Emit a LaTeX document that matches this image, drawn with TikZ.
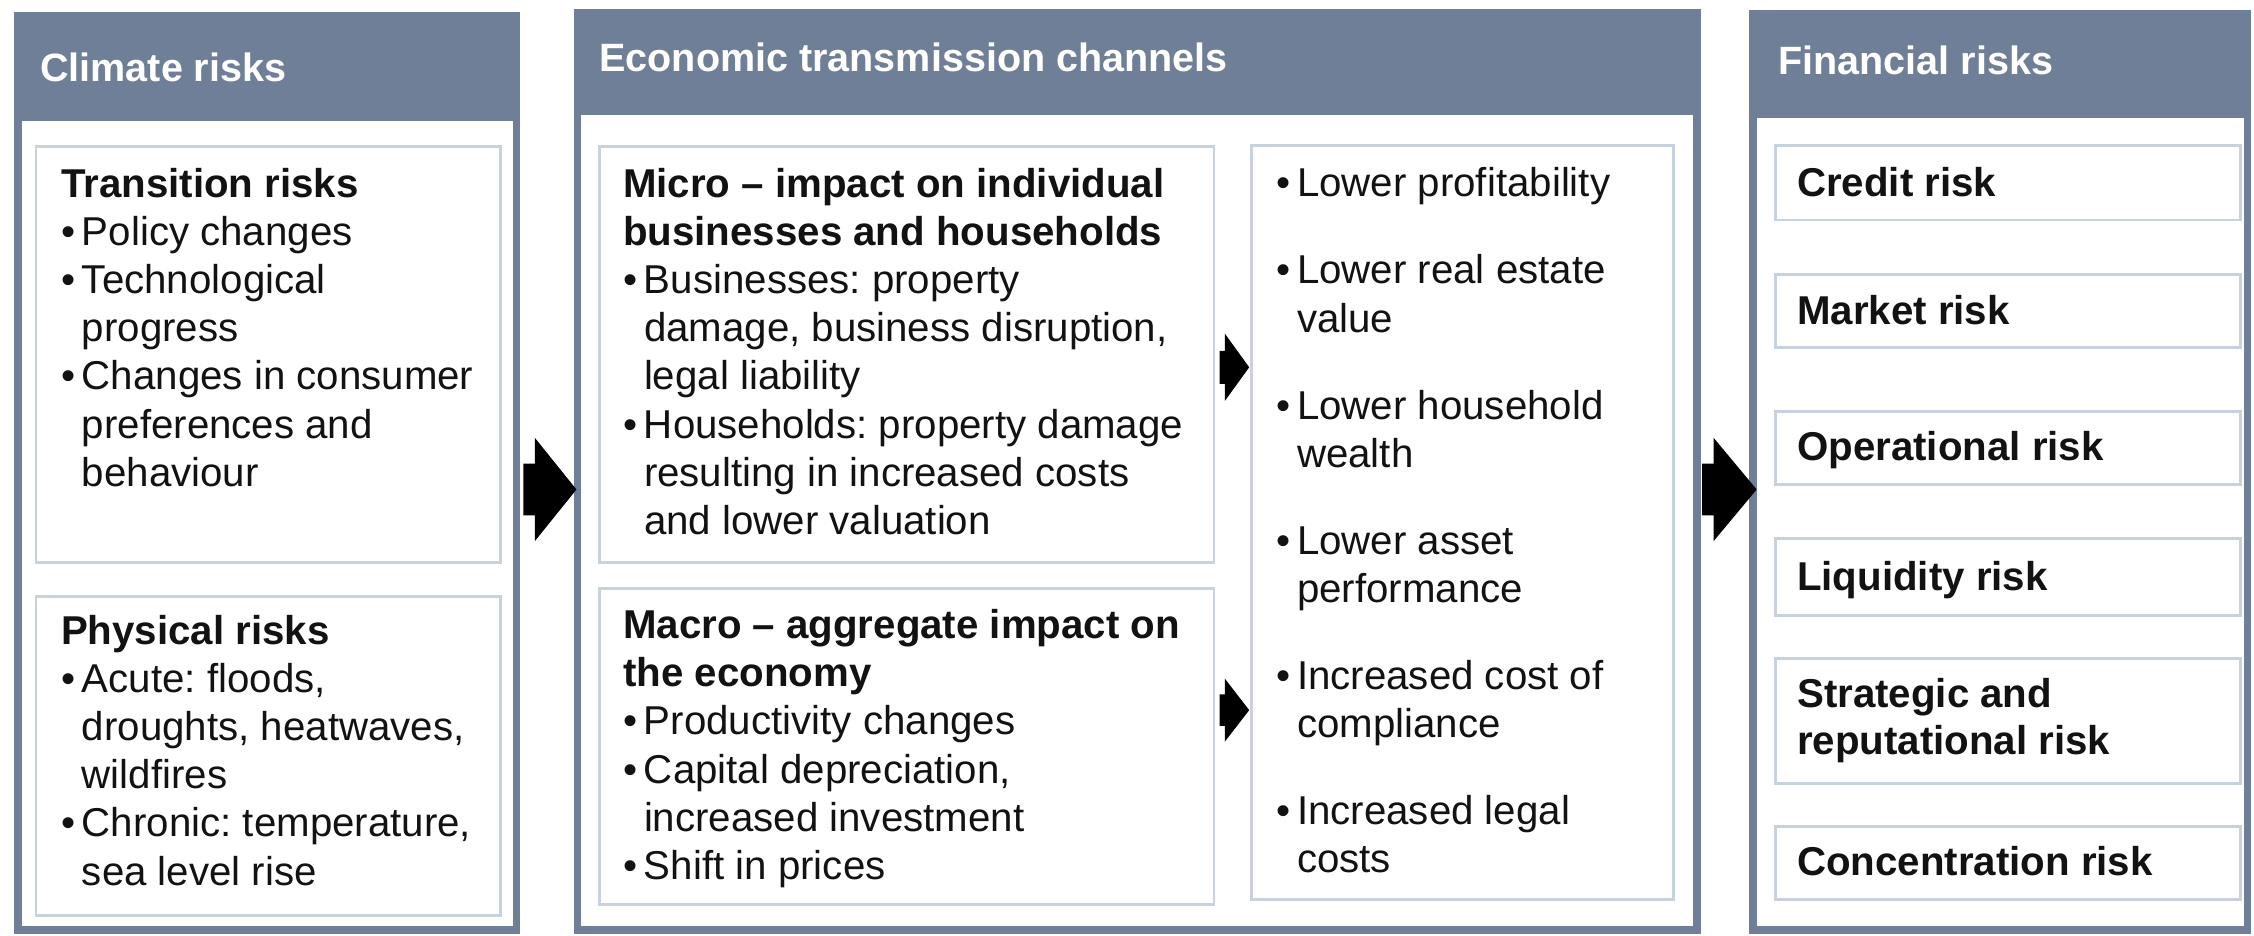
\documentclass[tikz,border=0pt]{standalone}
\usepackage{fontspec}
\setmainfont{Liberation Sans}
\usetikzlibrary{calc}
\definecolor{slate}{RGB}{111,127,151}
\definecolor{boxline}{RGB}{200,210,223}
\definecolor{ink}{RGB}{18,18,18}
\newcommand{\bl}{\makebox[14.5pt][l]{\textbullet}}
\newcommand{\ind}{\hspace*{14.5pt}}
\newcommand{\blockarr}[5]{%
  \fill[arr] ($(#1)+(0,-#3)$) -- ($(#2)+(-#5,-#3)$) -- ($(#2)+(-#5,-#4)$) -- (#2)
    -- ($(#2)+(-#5,#4)$) -- ($(#2)+(-#5,#3)$) -- ($(#1)+(0,#3)$) -- cycle;}
\begin{document}
\frenchspacing
\begin{tikzpicture}[x=1pt,y=-1pt,
  panelfill/.style={fill=slate, draw=none, inner sep=0pt, outer sep=0pt, anchor=north west},
  panelinner/.style={fill=white, draw=none, inner sep=0pt, outer sep=0pt, anchor=north west},
  subbox/.style={draw=boxline, line width=2pt, fill=white, inner sep=0pt, anchor=north west},
  hdr/.style={text=white, font=\fontsize{27.5pt}{33pt}\selectfont\bfseries, inner sep=0pt, anchor=base west},
  body/.style={text=ink, font=\fontsize{28pt}{33.5pt}\selectfont\frenchspacing, inner sep=0pt, align=left, anchor=north west},
  fin/.style={text=ink, font=\fontsize{28pt}{33pt}\selectfont\bfseries, inner sep=0pt, align=left},
  arr/.style={fill=black}
]
\useasboundingbox (0,0) rectangle (1568,651);

% panels
\node[panelfill, minimum width=352pt, minimum height=642pt] (leftp) at (10,8) {};
\node[panelinner, minimum width=342pt, minimum height=560pt] (lefti) at (15,84.5) {};
\node[panelfill, minimum width=784pt, minimum height=643.5pt] (midp) at (399,6.5) {};
\node[panelinner, minimum width=774pt, minimum height=564.5pt] (midi) at (404,80) {};
\node[panelfill, minimum width=349pt, minimum height=643pt] (rightp) at (1217,7) {};
\node[panelinner, minimum width=339pt, minimum height=562.5pt] (righti) at (1222,82) {};

% headers
\node[hdr] (h1) at (27.8,57) {Climate risks};
\node[hdr] (h2) at (416.8,50) {Economic transmission channels};
\node[hdr] (h3) at (1237,52) {Financial risks};

% sub boxes
\node[subbox, minimum width=323pt, minimum height=289pt] (trans) at (24,101) {};
\node[subbox, minimum width=323pt, minimum height=222pt] (phys) at (24,414) {};
\node[subbox, minimum width=427.5pt, minimum height=289pt] (micro) at (416,101) {};
\node[subbox, minimum width=427.5pt, minimum height=219.5pt] (macro) at (416,408.5) {};
\node[subbox, minimum width=293.5pt, minimum height=525pt] (effects) at (869.5,100) {};
\node[subbox, minimum width=323.5pt, minimum height=52pt] (credit) at (1234,100) {};
\node[subbox, minimum width=323.5pt, minimum height=51pt] (market) at (1234,190) {};
\node[subbox, minimum width=323.5pt, minimum height=51pt] (oper) at (1234,285) {};
\node[subbox, minimum width=323.5pt, minimum height=53.5pt] (liq) at (1234,373.5) {};
\node[subbox, minimum width=323.5pt, minimum height=87pt] (strat) at (1234,457) {};
\node[subbox, minimum width=323.5pt, minimum height=51pt] (conc) at (1234,574) {};

% texts
\node[body] (transT) at (42.3,113.55) {\strut\textbf{Transition risks}\\
  \bl Policy changes\\
  \bl Technological\\
  \ind progress\\
  \bl Changes in consumer\\
  \ind preferences and\\
  \ind behaviour};
\node[body] (physT) at (42.3,424.55) {\strut\textbf{Physical risks}\\
  \bl Acute: floods,\\
  \ind droughts, heatwaves,\\
  \ind wildfires\\
  \bl Chronic: temperature,\\
  \ind sea level rise};
\node[body] (microT) at (433.3,113.55) {\strut\textbf{Micro – impact on individual}\\
  \textbf{businesses and households}\\
  \bl Businesses: property\\
  \ind damage, business disruption,\\
  \ind legal liability\\
  \bl Households: property damage\\
  \ind resulting in increased costs\\
  \ind and lower valuation};
\node[body] (macroT) at (433.3,420.55) {\strut\textbf{Macro – aggregate impact on}\\
  \textbf{the economy}\\
  \bl Productivity changes\\
  \bl Capital depreciation,\\
  \ind increased investment\\
  \bl Shift in prices};
\node[body] (effectsT) at (887.6,113.35) {\strut\bl Lower profitability\\[27pt]
  \bl Lower real estate\\ \ind value\\[27pt]
  \bl Lower household\\ \ind wealth\\[27pt]
  \bl Lower asset\\ \ind performance\\[27pt]
  \bl Increased cost of\\ \ind compliance\\[27pt]
  \bl Increased legal\\ \ind costs};

\node[fin, anchor=base west] (creditT) at (1250,137) {Credit risk};
\node[fin, anchor=base west] (marketT) at (1250,226) {Market risk};
\node[fin, anchor=base west] (operT) at (1250,320) {Operational risk};
\node[fin, anchor=base west] (liqT) at (1250,410.5) {Liquidity risk};
\node[fin, anchor=north west] (stratT) at (1250,468.9) {\strut Strategic and\\reputational risk};
\node[fin, anchor=base west] (concT) at (1250,609) {Concentration risk};

% arrows
\coordinate (a1s) at ($(leftp.east |- 0,340.5)+(2,0)$);
\coordinate (a1e) at ($(midp.west |- 0,340.5)+(2,0)$);
\blockarr{a1s}{a1e}{18}{36}{29}
\coordinate (a2s) at ($(midp.east |- 0,340.5)+(1,0)$);
\coordinate (a2e) at ($(rightp.west |- 0,340.5)+(5,0)$);
\blockarr{a2s}{a2e}{18}{36}{30}
\coordinate (a3s) at ($(micro.east |- 0,255.5)+(3,0)$);
\coordinate (a3e) at ($(effects.west |- 0,255.5)+(-0.5,0)$);
\blockarr{a3s}{a3e}{11.5}{23.5}{17}
\coordinate (a4s) at ($(macro.east |- 0,494)+(3,0)$);
\coordinate (a4e) at ($(effects.west |- 0,494)+(-0.5,0)$);
\blockarr{a4s}{a4e}{11}{22}{17}
\end{tikzpicture}
\end{document}
